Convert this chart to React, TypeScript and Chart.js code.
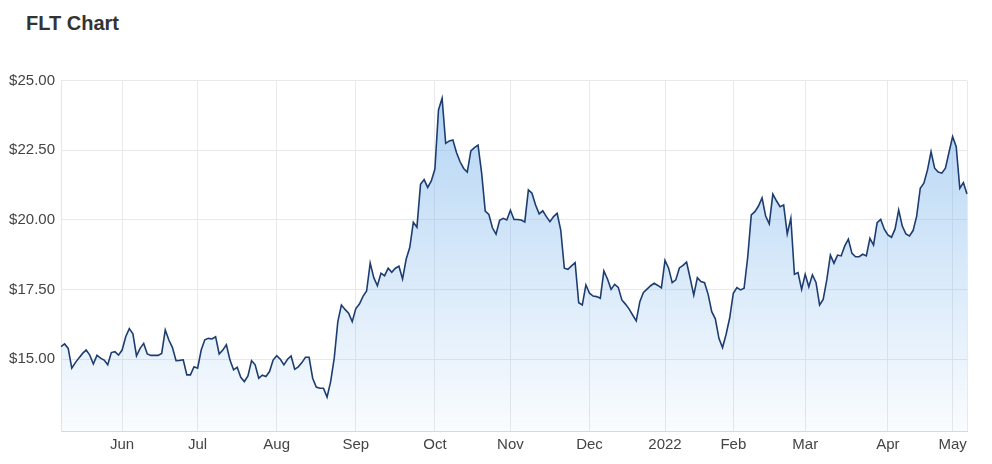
import { useEffect, useRef } from 'react';
import { Chart, registerables } from 'chart.js';

Chart.register(...registerables);

const FONT = '"Liberation Sans", Arial, Helvetica, sans-serif';

// Daily closing prices (AUD), one array per month of trading days
const pricesMay2021 = [15.45, 15.55, 15.39, 14.68, 14.88, 15.05, 15.21, 15.33, 15.15, 14.83, 15.14, 15.04, 14.97, 14.80, 15.24, 15.27, 15.15];
const pricesJun2021 = [15.33, 15.81, 16.10, 15.91, 15.12, 15.39, 15.57, 15.19, 15.14, 15.14, 15.14, 15.21, 16.05, 15.69, 15.42, 14.95, 14.96, 14.98, 14.44, 14.44, 14.73];
const pricesJul2021 = [14.68, 15.33, 15.70, 15.75, 15.73, 15.81, 15.19, 15.33, 15.52, 14.97, 14.62, 14.71, 14.35, 14.20, 14.40, 14.95, 14.80, 14.32, 14.43, 14.38, 14.56, 14.97];
const pricesAug2021 = [15.13, 15.00, 14.80, 15.00, 15.12, 14.64, 14.73, 14.88, 15.07, 15.07, 14.32, 14.00, 13.96, 13.96, 13.64, 14.20, 15.04, 16.35, 16.95, 16.79, 16.65, 16.35];
const pricesSep2021 = [16.82, 16.98, 17.26, 17.45, 18.45, 17.93, 17.64, 18.09, 18.00, 18.27, 18.12, 18.27, 18.34, 17.88, 18.59, 19.01, 19.92, 19.74, 21.28, 21.45, 21.17, 21.40];
const pricesOct2021 = [21.83, 23.95, 24.37, 22.75, 22.84, 22.87, 22.42, 22.09, 21.85, 21.72, 22.48, 22.60, 22.69, 21.68, 20.32, 20.20, 19.72, 19.49, 19.99, 20.06, 20.00];
const pricesNov2021 = [20.35, 20.02, 20.02, 20.00, 19.93, 21.08, 20.96, 20.54, 20.22, 20.33, 20.12, 19.94, 20.12, 20.24, 19.64, 18.27, 18.23, 18.35, 18.47, 17.03, 16.95, 17.67];
const pricesDec2021 = [17.37, 17.27, 17.25, 17.19, 18.17, 17.88, 17.51, 17.69, 17.58, 17.13, 16.98, 16.81, 16.59, 16.38, 17.07, 17.40, 17.52, 17.64, 17.73, 17.65, 17.56];
const pricesJan2022 = [18.55, 18.27, 17.75, 17.85, 18.28, 18.37, 18.49, 17.91, 17.30, 17.93, 17.79, 17.75, 17.33, 16.71, 16.45, 15.75, 15.42, 15.90, 16.49];
const pricesFeb2022 = [17.37, 17.57, 17.49, 17.55, 18.66, 20.18, 20.30, 20.50, 20.79, 20.14, 19.86, 20.93, 20.69, 20.48, 20.54, 19.50, 20.06, 18.05, 18.11, 17.51];
const pricesMar2022 = [18.05, 17.60, 18.03, 17.76, 16.95, 17.15, 17.85, 18.74, 18.45, 18.74, 18.71, 19.07, 19.31, 18.80, 18.68, 18.68, 18.77, 18.71, 19.34, 19.10, 19.90, 20.02, 19.67];
const pricesApr2022 = [19.46, 19.38, 19.68, 20.36, 19.78, 19.50, 19.43, 19.62, 20.14, 21.14, 21.32, 21.79, 22.45, 21.86, 21.72, 21.68, 21.86, 22.43];
const pricesMay2022 = [22.99, 22.63, 21.14, 21.34, 20.93];

const monthSeries = [
  pricesMay2021, pricesJun2021, pricesJul2021, pricesAug2021, pricesSep2021, pricesOct2021,
  pricesNov2021, pricesDec2021, pricesJan2022, pricesFeb2022, pricesMar2022, pricesApr2022, pricesMay2022,
];

// Labels shown at the first trading day of each month (from June 2021)
const monthTickLabels = ['Jun', 'Jul', 'Aug', 'Sep', 'Oct', 'Nov', 'Dec', '2022', 'Feb', 'Mar', 'Apr', 'May'];
const yTickValues = [15, 17.5, 20, 22.5, 25];
const Y_MIN = 12.4;
const Y_MAX = 25;

export default function App() {
  const canvasRef = useRef<HTMLCanvasElement | null>(null);

  useEffect(() => {
    const canvas = canvasRef.current;
    if (!canvas) return;

    const prices: number[] = ([] as number[]).concat(...monthSeries);
    const labels = prices.map((_, i) => String(i));

    // tick indices at first trading day of each month after the first
    const tickIdx: number[] = [];
    let acc = 0;
    for (let m = 0; m < monthSeries.length; m++) {
      if (m > 0) tickIdx.push(acc);
      acc += monthSeries[m].length;
    }
    tickIdx.push(prices.length - 1); // right border line

    const chart = new Chart(canvas, {
      type: 'line',
      data: {
        labels,
        datasets: [
          {
            data: prices,
            borderColor: '#1d3d71',
            borderWidth: 1.6,
            pointRadius: 0,
            pointHoverRadius: 0,
            tension: 0,
            fill: 'start',
            backgroundColor: (ctx: any) => {
              const { chart: ch } = ctx;
              const area = ch.chartArea;
              if (!area) return 'rgba(124,181,236,0.3)';
              const g = ch.ctx.createLinearGradient(0, area.top, 0, area.bottom);
              g.addColorStop(0, 'rgba(124,181,236,0.6)');
              g.addColorStop(1, 'rgba(124,181,236,0.04)');
              return g;
            },
          },
        ],
      },
      options: {
        animation: false,
        responsive: false,
        devicePixelRatio: 1,
        layout: { padding: { top: 72.7, right: 17, bottom: 0, left: 0 } },
        plugins: {
          legend: { display: false },
          tooltip: { enabled: false },
          title: { display: false },
        },
        scales: {
          x: {
            type: 'category',
            grid: { color: '#e9e9e9', drawTicks: false, lineWidth: 1 },
            border: { display: true, color: '#d9d9d9' },
            ticks: {
              autoSkip: false,
              maxRotation: 0,
              minRotation: 0,
              padding: 4,
              color: '#444',
              font: { family: FONT, size: 15 },
              callback: (_v: any, i: number) => (i < monthTickLabels.length ? monthTickLabels[i] : ''),
            },
            afterBuildTicks: (scale: any) => {
              scale.ticks = tickIdx.map((v) => ({ value: v }));
            },
            afterFit: (scale: any) => {
              scale.height = 24.3;
            },
          },
          y: {
            min: Y_MIN,
            max: Y_MAX,
            grid: { color: '#e9e9e9', drawTicks: false, lineWidth: 1 },
            border: { display: true, color: '#e6e6e6' },
            ticks: {
              padding: 6,
              color: '#444',
              font: { family: FONT, size: 15 },
              callback: (v: any) => '$' + Number(v).toFixed(2),
            },
            afterBuildTicks: (scale: any) => {
              scale.ticks = yTickValues.map((v) => ({ value: v }));
            },
            afterFit: (scale: any) => {
              scale.width = 53;
            },
          },
        },
      },
    });

    return () => {
      chart.destroy();
    };
  }, []);

  return (
    <div style={{ position: 'relative', width: 976, height: 448 }}>
      <div
        style={{
          position: 'absolute',
          left: 18,
          top: 4,
          font: `bold 20px ${FONT}`,
          lineHeight: '23px',
          color: '#333',
          whiteSpace: 'nowrap',
        }}
      >
        FLT Chart
      </div>
      <canvas
        ref={canvasRef}
        width={976}
        height={448}
        style={{ position: 'absolute', left: 0, top: 0, width: 976, height: 448 }}
      />
    </div>
  );
}
